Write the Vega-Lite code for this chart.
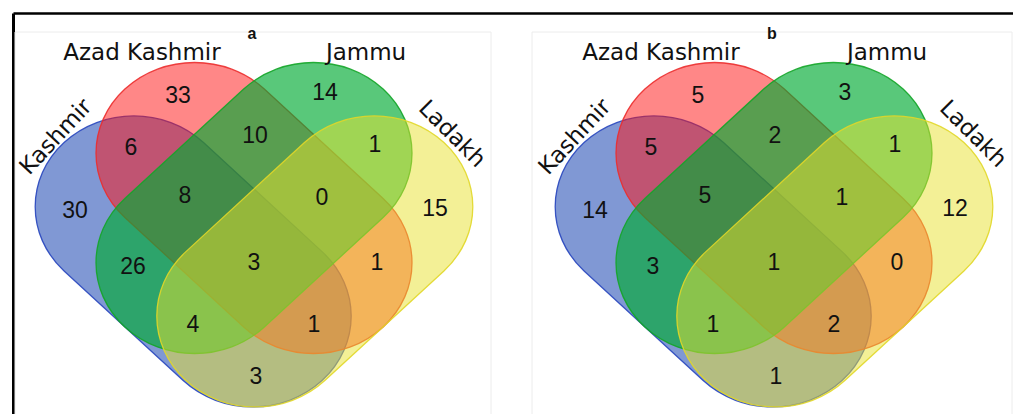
{
  "$schema": "https://vega.github.io/schema/vega-lite/v6.json",
  "width": 1000,
  "height": 401,
  "autosize": {"type": "none"},
  "padding": {"left": 13, "top": 13, "right": 0, "bottom": 0},
  "background": "white",
  "config": {"view": {"stroke": null}},
  "datasets": {
    "panels": [
      {"panel": "a", "x": 15, "x2": 491, "y": 32, "y2": 430},
      {"panel": "b", "x": 532, "x2": 1012, "y": 32, "y2": 430}
    ],
    "shapes": [
      {"panel": "a", "set": "Kashmir", "x": 193.2, "y": 261.4},
      {"panel": "a", "set": "Azad Kashmir", "x": 254, "y": 208},
      {"panel": "a", "set": "Jammu", "x": 254, "y": 208},
      {"panel": "a", "set": "Ladakh", "x": 314.8, "y": 261.4},
      {"panel": "b", "set": "Kashmir", "x": 713.2, "y": 261.4},
      {"panel": "b", "set": "Azad Kashmir", "x": 774, "y": 208},
      {"panel": "b", "set": "Jammu", "x": 774, "y": 208},
      {"panel": "b", "set": "Ladakh", "x": 834.8, "y": 261.4}
    ],
    "counts": [
      {"panel": "a", "region": "Azad Kashmir", "n": 33, "x": 178, "y": 96},
      {"panel": "a", "region": "Jammu", "n": 14, "x": 325, "y": 93},
      {"panel": "a", "region": "Kashmir∩Azad Kashmir", "n": 6, "x": 131, "y": 148},
      {"panel": "a", "region": "Azad Kashmir∩Jammu", "n": 10, "x": 255, "y": 136},
      {"panel": "a", "region": "Jammu∩Ladakh", "n": 1, "x": 375, "y": 145},
      {"panel": "a", "region": "Kashmir", "n": 30, "x": 75, "y": 211},
      {"panel": "a", "region": "Kashmir∩Azad Kashmir∩Jammu", "n": 8, "x": 185, "y": 196},
      {"panel": "a", "region": "Azad Kashmir∩Jammu∩Ladakh", "n": 0, "x": 322, "y": 198},
      {"panel": "a", "region": "Ladakh", "n": 15, "x": 435, "y": 209},
      {"panel": "a", "region": "Kashmir∩Jammu", "n": 26, "x": 133, "y": 267},
      {"panel": "a", "region": "All four", "n": 3, "x": 254, "y": 263},
      {"panel": "a", "region": "Azad Kashmir∩Ladakh", "n": 1, "x": 377, "y": 263},
      {"panel": "a", "region": "Kashmir∩Jammu∩Ladakh", "n": 4, "x": 193, "y": 325},
      {"panel": "a", "region": "Kashmir∩Azad Kashmir∩Ladakh", "n": 1, "x": 314, "y": 325},
      {"panel": "a", "region": "Kashmir∩Ladakh", "n": 3, "x": 256, "y": 377},
      {"panel": "b", "region": "Azad Kashmir", "n": 5, "x": 698, "y": 96},
      {"panel": "b", "region": "Jammu", "n": 3, "x": 845, "y": 93},
      {"panel": "b", "region": "Kashmir∩Azad Kashmir", "n": 5, "x": 651, "y": 148},
      {"panel": "b", "region": "Azad Kashmir∩Jammu", "n": 2, "x": 775, "y": 136},
      {"panel": "b", "region": "Jammu∩Ladakh", "n": 1, "x": 895, "y": 145},
      {"panel": "b", "region": "Kashmir", "n": 14, "x": 595, "y": 211},
      {"panel": "b", "region": "Kashmir∩Azad Kashmir∩Jammu", "n": 5, "x": 705, "y": 196},
      {"panel": "b", "region": "Azad Kashmir∩Jammu∩Ladakh", "n": 1, "x": 842, "y": 198},
      {"panel": "b", "region": "Ladakh", "n": 12, "x": 955, "y": 209},
      {"panel": "b", "region": "Kashmir∩Jammu", "n": 3, "x": 653, "y": 267},
      {"panel": "b", "region": "All four", "n": 1, "x": 774, "y": 263},
      {"panel": "b", "region": "Azad Kashmir∩Ladakh", "n": 0, "x": 897, "y": 263},
      {"panel": "b", "region": "Kashmir∩Jammu∩Ladakh", "n": 1, "x": 713, "y": 325},
      {"panel": "b", "region": "Kashmir∩Azad Kashmir∩Ladakh", "n": 2, "x": 834, "y": 325},
      {"panel": "b", "region": "Kashmir∩Ladakh", "n": 1, "x": 776, "y": 377}
    ],
    "labels": [
      {"panel": "a", "set": "Azad Kashmir", "x": 142, "y": 60},
      {"panel": "a", "set": "Jammu", "x": 366, "y": 60},
      {"panel": "a", "set": "Kashmir", "x": 56, "y": 137},
      {"panel": "a", "set": "Ladakh", "x": 452, "y": 134},
      {"panel": "b", "set": "Azad Kashmir", "x": 661, "y": 60},
      {"panel": "b", "set": "Jammu", "x": 887, "y": 60},
      {"panel": "b", "set": "Kashmir", "x": 575, "y": 137},
      {"panel": "b", "set": "Ladakh", "x": 973, "y": 134}
    ],
    "titles": [
      {"panel": "a", "x": 252, "y": 39},
      {"panel": "b", "x": 772, "y": 39}
    ]
  },
  "encoding": {
    "x": {
      "field": "x", "type": "quantitative",
      "scale": {"domain": [13, 1013], "nice": false, "zero": false},
      "axis": {"orient": "top", "domainColor": "#000000", "domainWidth": 2.5, "ticks": false, "labels": false, "grid": false, "title": null}
    },
    "y": {
      "field": "y", "type": "quantitative",
      "scale": {"domain": [13, 414], "nice": false, "zero": false, "reverse": true},
      "axis": {"orient": "left", "domainColor": "#000000", "domainWidth": 3, "ticks": false, "labels": false, "grid": false, "title": null}
    }
  },
  "layer": [
    {
      "data": {"name": "panels"},
      "mark": {"type": "rect", "fill": "#ffffff", "stroke": "#ececec", "strokeWidth": 1, "clip": true},
      "encoding": {"x2": {"field": "x2"}, "y2": {"field": "y2"}}
    },
    {
      "data": {"name": "shapes"},
      "mark": {"type": "point", "filled": true, "size": 40000, "opacity": 1, "strokeWidth": 1.3},
      "encoding": {
        "shape": {
          "field": "set", "type": "nominal", "legend": null,
          "scale": {
            "domain": ["Kashmir", "Azad Kashmir", "Jammu", "Ladakh"],
            "range": [
              "M-1.2912,0.0951 L-0.1032,1.1892 C0.2819,1.5439 0.9061,1.5439 1.2912,1.1892 C1.6763,0.8345 1.6763,0.2596 1.2912,-0.0951 L0.1032,-1.1892 C-0.2819,-1.5439 -0.9061,-1.5439 -1.2912,-1.1892 C-1.6763,-0.8345 -1.6763,-0.2596 -1.2912,0.0951 Z",
              "M-1.2912,0.0951 L-0.1032,1.1892 C0.2819,1.5439 0.9061,1.5439 1.2912,1.1892 C1.6763,0.8345 1.6763,0.2596 1.2912,-0.0951 L0.1032,-1.1892 C-0.2819,-1.5439 -0.9061,-1.5439 -1.2912,-1.1892 C-1.6763,-0.8345 -1.6763,-0.2596 -1.2912,0.0951 Z",
              "M1.2912,0.0951 L0.1032,1.1892 C-0.2819,1.5439 -0.9061,1.5439 -1.2912,1.1892 C-1.6763,0.8345 -1.6763,0.2596 -1.2912,-0.0951 L-0.1032,-1.1892 C0.2819,-1.5439 0.9061,-1.5439 1.2912,-1.1892 C1.6763,-0.8345 1.6763,-0.2596 1.2912,0.0951 Z",
              "M1.2912,0.0951 L0.1032,1.1892 C-0.2819,1.5439 -0.9061,1.5439 -1.2912,1.1892 C-1.6763,0.8345 -1.6763,0.2596 -1.2912,-0.0951 L-0.1032,-1.1892 C0.2819,-1.5439 0.9061,-1.5439 1.2912,-1.1892 C1.6763,-0.8345 1.6763,-0.2596 1.2912,0.0951 Z"
            ]
          }
        },
        "fill": {
          "field": "set", "type": "nominal", "legend": null,
          "scale": {
            "domain": ["Kashmir", "Azad Kashmir", "Jammu", "Ladakh"],
            "range": ["rgba(1,49,169,0.5)", "rgba(255,15,15,0.5)", "rgba(0,170,50,0.65)", "rgba(231,225,45,0.5)"]
          }
        },
        "stroke": {
          "field": "set", "type": "nominal", "legend": null,
          "scale": {
            "domain": ["Kashmir", "Azad Kashmir", "Jammu", "Ladakh"],
            "range": ["rgba(40,70,190,0.9)", "rgba(235,45,45,0.9)", "rgba(20,165,40,0.9)", "rgba(225,215,40,0.9)"]
          }
        }
      }
    },
    {
      "data": {"name": "counts"},
      "mark": {"type": "text", "font": "Liberation Sans", "fontSize": 23, "color": "#111111", "baseline": "middle", "align": "center"},
      "encoding": {"text": {"field": "n", "type": "nominal"}}
    },
    {
      "data": {"name": "labels"},
      "transform": [{"filter": "datum.set === 'Azad Kashmir' || datum.set === 'Jammu'"}],
      "mark": {"type": "text", "font": "DejaVu Sans", "fontSize": 23, "color": "#111111", "baseline": "alphabetic", "align": "center"},
      "encoding": {"text": {"field": "set", "type": "nominal"}}
    },
    {
      "data": {"name": "labels"},
      "transform": [{"filter": "datum.set === 'Kashmir'"}],
      "mark": {"type": "text", "font": "DejaVu Sans", "fontSize": 23, "color": "#111111", "baseline": "middle", "align": "center", "angle": 313},
      "encoding": {"text": {"field": "set", "type": "nominal"}}
    },
    {
      "data": {"name": "labels"},
      "transform": [{"filter": "datum.set === 'Ladakh'"}],
      "mark": {"type": "text", "font": "DejaVu Sans", "fontSize": 23, "color": "#111111", "baseline": "middle", "align": "center", "angle": 45},
      "encoding": {"text": {"field": "set", "type": "nominal"}}
    },
    {
      "data": {"name": "titles"},
      "mark": {"type": "text", "font": "Liberation Sans", "fontSize": 16, "fontWeight": "bold", "color": "#111111", "baseline": "alphabetic", "align": "center"},
      "encoding": {"text": {"field": "panel", "type": "nominal"}}
    }
  ]
}
